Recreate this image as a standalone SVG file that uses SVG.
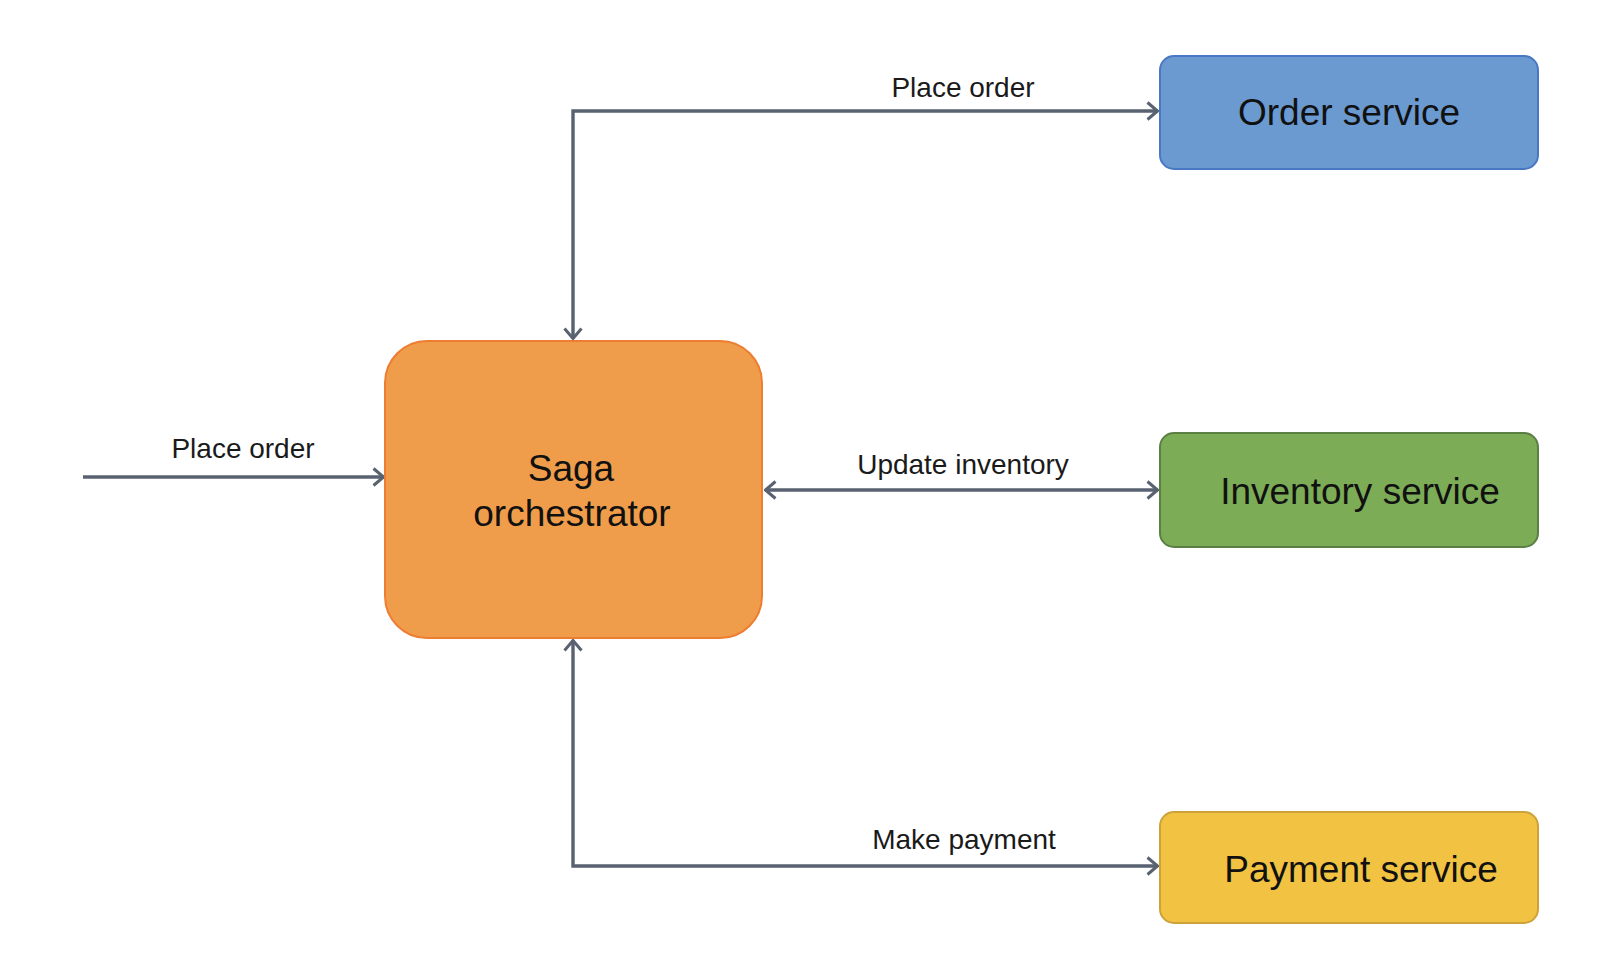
<svg xmlns="http://www.w3.org/2000/svg" width="1606" height="956" viewBox="0 0 1606 956">
  <style>
    .lbl { font-family: "Liberation Sans", Arial, sans-serif; font-size: 28px; fill: #1a1a1a; text-anchor: middle; }
    .ntx { font-family: "Liberation Sans", Arial, sans-serif; font-size: 37px; fill: #111111; text-anchor: middle; }
    .conn { fill: none; stroke: #596270; stroke-width: 3.4; }
  </style>
  <defs>
    <marker id="arr" viewBox="0 0 13 20" refX="12" refY="10" markerWidth="13" markerHeight="20" markerUnits="userSpaceOnUse" orient="auto-start-reverse">
      <path d="M1.5,1.5 L11.5,10 L1.5,18.5" fill="none" stroke="#596270" stroke-width="3" stroke-linejoin="miter"/>
    </marker>
  </defs>
  <rect width="1606" height="956" fill="#ffffff"/>

  <g id="connectors">
    <path class="conn" d="M573,339 V111 H1158" marker-start="url(#arr)" marker-end="url(#arr)"/>
    <path class="conn" d="M83,477 H384" marker-end="url(#arr)"/>
    <path class="conn" d="M765,490 H1158" marker-start="url(#arr)" marker-end="url(#arr)"/>
    <path class="conn" d="M573,640 V866 H1158" marker-start="url(#arr)" marker-end="url(#arr)"/>
    <text class="lbl" x="963" y="97">Place order</text>
    <text class="lbl" x="243" y="458">Place order</text>
    <text class="lbl" x="963" y="474">Update inventory</text>
    <text class="lbl" x="964" y="849">Make  payment</text>
  </g>

  <g id="orchestrator">
    <rect x="385" y="341" width="377" height="297" rx="42" ry="42" fill="#F09D4B" stroke="#ED7D31" stroke-width="2"/>
    <text class="ntx" x="571" y="481">Saga</text>
    <text class="ntx" x="572" y="526">orchestrator</text>
  </g>

  <g id="order-service">
    <rect x="1160" y="56" width="378" height="113" rx="14" ry="14" fill="#6A9AD0" stroke="#4A77C4" stroke-width="2"/>
    <text class="ntx" x="1349" y="125">Order service</text>
  </g>

  <g id="inventory-service">
    <rect x="1160" y="433" width="378" height="114" rx="14" ry="14" fill="#7CAC56" stroke="#5B7F45" stroke-width="2"/>
    <text class="ntx" x="1360" y="504">Inventory service</text>
  </g>

  <g id="payment-service">
    <rect x="1160" y="812" width="378" height="111" rx="14" ry="14" fill="#F2C242" stroke="#CDA23A" stroke-width="2"/>
    <text class="ntx" x="1361" y="882">Payment service</text>
  </g>
</svg>
